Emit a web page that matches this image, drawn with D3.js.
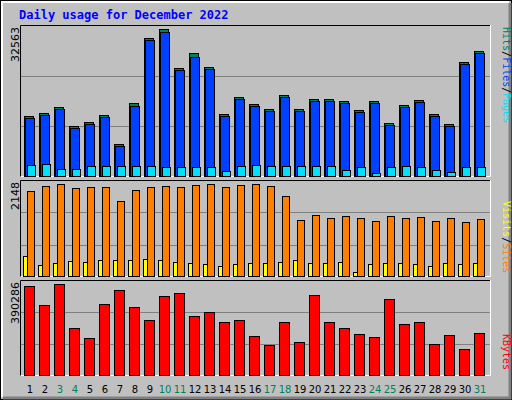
<!DOCTYPE html><html><head><script src="https://cdn.jsdelivr.net/npm/d3@7"></script>
<style>body{margin:0}svg{display:block}</style></head><body><svg width="512" height="400"></svg>
<script>
const days=d3.range(1,32);
const weekend=[3,4,10,11,17,18,24,25,31];
const hits=[13290,13955,15284,11075,11961,13512,7088,16170,30567,32563,23922,27245,24144,13733,17499,15948,14841,17942,14841,17056,17056,16613,14619,16613,11740,15727,16834,13733,11518,25251,27688];
const files=[12850,13500,14800,10700,11500,13050,6700,15500,30100,32000,23500,26300,23600,13300,17050,15500,14400,17500,14400,16600,16600,16200,14200,16200,11300,15300,16400,13300,11100,24800,27200];
const pages=[2450,2550,1600,1450,2300,2300,2300,2300,2300,2100,2000,2050,2050,1200,2300,2400,2150,2300,2300,2300,2200,1300,2000,750,1900,2300,1950,1400,950,2100,2000];
const visits=[1985,2101,2148,2055,2078,2078,1751,2008,2078,2101,2078,2125,2148,2078,2125,2148,2101,1868,1308,1424,1354,1401,1354,1284,1401,1354,1378,1284,1354,1261,1331];
const sites=[467,257,303,350,327,373,373,373,397,373,327,303,280,233,280,303,303,327,373,303,303,327,90,280,303,303,280,233,303,280,303];
const kbytes=[381612,299219,390286,199479,160450,303556,364267,290546,234172,338248,351257,251518,268864,225499,234172,169125,130096,225499,143106,342585,225499,199479,177797,164788,325238,216826,225499,134433,173460,112749,182148];
const maxLabels=["32563","2148","390286"];
const C={hits:"#00805c",files:"#0040ff",pages:"#00e0ff",visits:"#ff8000",sites:"#ffff00",kb:"#ff0000",green:"#00805c"};
const svg=d3.select("svg");
svg.append("rect").attr("width",512).attr("height",400).attr("fill","#000");
svg.append("rect").attr("x",1).attr("y",1).attr("width",510).attr("height",398).attr("fill","#c0c0c0");
svg.append("path").attr("d","M2,397V2H509").attr("stroke","#fff").attr("stroke-width",2).attr("fill","none");
svg.append("path").attr("d","M3,398H510V3").attr("stroke","#808080").attr("stroke-width",3).attr("fill","none");
svg.append("text").attr("x",19).attr("y",19).text("Daily usage for December 2022")
 .attr("font-family","DejaVu Sans Mono").attr("font-weight","bold").attr("font-size",12).attr("fill","#0000ff");
const x=d3.scaleBand().domain(days).range([24.5,489.5]);
const cx=d=>x(d)+x.bandwidth()/2;
const panels=[{t:25,b:177,top:29,max:32563},{t:180,b:277,top:184,max:2148},{t:280,b:376,top:284,max:390286}];
panels.forEach((p,i)=>{
 svg.append("rect").attr("x",20).attr("y",p.t).attr("width",470).attr("height",p.b-p.t).attr("fill","#c0c0c0");
 const h=(p.b-p.t)/3;
 [1,2].forEach(k=>svg.append("line").attr("x1",21).attr("x2",490).attr("y1",Math.round(p.t+h*k)+.5).attr("y2",Math.round(p.t+h*k)+.5).attr("stroke","#808080"));
 svg.append("path").attr("d",`M20.5,${p.b}V${p.t+.5}H490`).attr("stroke","#000").attr("fill","none");
 svg.append("path").attr("d",`M20.5,${p.b-.5}H490.5V${p.t}`).attr("stroke","#fff").attr("fill","none");
 p.y=d3.scaleLinear().domain([0,p.max]).range([p.b-1,p.top]);
 svg.append("text").attr("transform",`translate(19,${p.t+2}) rotate(-90)`).attr("text-anchor","end")
  .attr("font-family","DejaVu Sans").attr("font-size",11).attr("fill","#000").text(maxLabels[i]);
});
function bars(arr,p,dx,w,col){
 svg.append("g").selectAll("rect").data(days).join("rect")
  .attr("x",d=>Math.round(cx(d)+dx)+.5).attr("width",w)
  .attr("y",(d,i)=>Math.round(p.y(arr[i]))+.5).attr("height",(d,i)=>Math.max(0,p.b-1-Math.round(p.y(arr[i]))))
  .attr("fill",col).attr("stroke","#000");
}
bars(hits,panels[0],-8,9,C.hits);
bars(files,panels[0],-7,9,C.files);
bars(pages,panels[0],-5,8,C.pages);
bars(visits,panels[1],-5,7,C.visits);
bars(sites,panels[1],-9,4,C.sites);
bars(kbytes,panels[2],-8,10,C.kb);
svg.append("g").selectAll("text").data(days).join("text").attr("x",d=>cx(d)-2).attr("y",393)
 .attr("text-anchor","middle").attr("font-family","DejaVu Sans").attr("font-size",10)
 .attr("fill",d=>weekend.includes(d)?C.green:"#000").text(d=>d);
function vlabel(y,parts){
 const t=svg.append("text").attr("transform",`translate(503,${y}) rotate(90)`).attr("font-family","DejaVu Sans Mono").attr("font-size",10);
 parts.forEach(([s,c])=>t.append("tspan").attr("fill",c).text(s));
}
vlabel(27,[["Hits","#00805c"],["/","#000"],["Files","#0040ff"],["/","#000"],["Pages","#00e0ff"]]);
vlabel(201,[["Visits","#ffff00"],["/","#000"],["Sites","#ff8000"]]);
vlabel(334,[["KBytes","#ff0000"]]);
</script></body></html>
